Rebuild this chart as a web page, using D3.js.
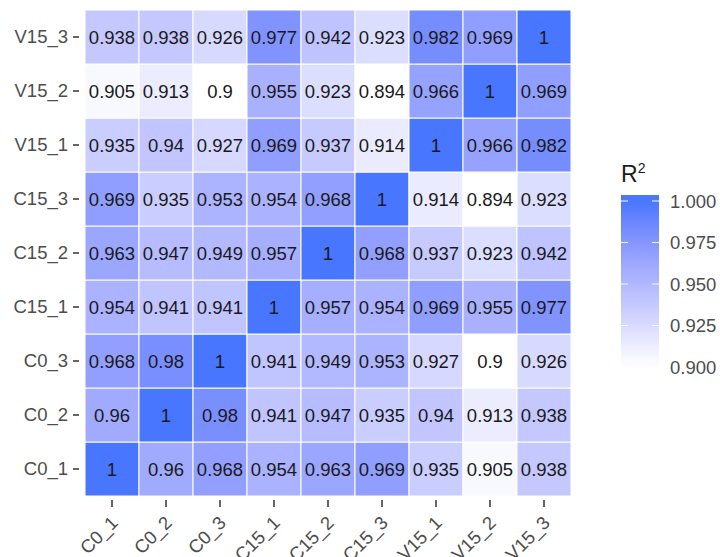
<!DOCTYPE html>
<html>
<head>
<meta charset="utf-8">
<script src="https://cdn.jsdelivr.net/npm/d3@7"></script>
<style>
  body { margin: 0; background: #fff; }
  text { font-family: "Liberation Sans", Arial, sans-serif; }
</style>
</head>
<body>
<svg id="chart" width="720" height="557"></svg>
<script>
// sample names, in axis order (bottom to top on y)
var samples = ["C0_1", "C0_2", "C0_3", "C15_1", "C15_2", "C15_3", "V15_1", "V15_2", "V15_3"];

// R^2 per row sample, columns follow `samples`
var C0_1  = [1, 0.96, 0.968, 0.954, 0.963, 0.969, 0.935, 0.905, 0.938];
var C0_2  = [0.96, 1, 0.98, 0.941, 0.947, 0.935, 0.94, 0.913, 0.938];
var C0_3  = [0.968, 0.98, 1, 0.941, 0.949, 0.953, 0.927, 0.9, 0.926];
var C15_1 = [0.954, 0.941, 0.941, 1, 0.957, 0.954, 0.969, 0.955, 0.977];
var C15_2 = [0.963, 0.947, 0.949, 0.957, 1, 0.968, 0.937, 0.923, 0.942];
var C15_3 = [0.969, 0.935, 0.953, 0.954, 0.968, 1, 0.914, 0.894, 0.923];
var V15_1 = [0.935, 0.94, 0.927, 0.969, 0.937, 0.914, 1, 0.966, 0.982];
var V15_2 = [0.905, 0.913, 0.9, 0.955, 0.923, 0.894, 0.966, 1, 0.969];
var V15_3 = [0.938, 0.938, 0.926, 0.977, 0.942, 0.923, 0.982, 0.969, 1];

var legendTicks = [0.900, 0.925, 0.950, 0.975, 1.000];

var rows = { C0_1: C0_1, C0_2: C0_2, C0_3: C0_3, C15_1: C15_1, C15_2: C15_2,
             C15_3: C15_3, V15_1: V15_1, V15_2: V15_2, V15_3: V15_3 };

var cells = [];
samples.forEach(function (r) {
    rows[r].forEach(function (v, i) {
        cells.push({ row: r, col: samples[i], value: v });
    });
});

var svg = d3.select("#chart");
var fontSize = 18.5;

// note: `top` is taken by window.top, so use other names
var plotLeft = 85, plotTop = 10, plotSize = 486;

var x = d3.scaleBand().domain(samples).range([plotLeft, plotLeft + plotSize]);
var y = d3.scaleBand().domain(samples).range([plotTop + plotSize, plotTop]);

var color = d3.scaleLinear()
    .domain([0.9, 1])
    .range(["#ffffff", "#4876ff"])
    .interpolate(d3.interpolateLab)
    .clamp(true);

var cell = svg.append("g").selectAll("g")
    .data(cells)
    .enter().append("g");

cell.append("rect")
    .attr("x", function (d) { return x(d.col); })
    .attr("y", function (d) { return y(d.row); })
    .attr("width", x.bandwidth())
    .attr("height", y.bandwidth())
    .attr("fill", function (d) { return color(d.value); })
    .attr("stroke", "#fff")
    .attr("stroke-width", 1);

cell.append("text")
    .attr("x", function (d) { return x(d.col) + x.bandwidth() / 2; })
    .attr("y", function (d) { return y(d.row) + y.bandwidth() / 2; })
    .attr("dy", "0.36em")
    .attr("text-anchor", "middle")
    .attr("font-size", fontSize)
    .attr("fill", "#1a1a1a")
    .text(function (d) { return String(+d.value.toFixed(3)); });

// y axis
var yAxis = svg.append("g")
    .attr("transform", "translate(" + (plotLeft - 6) + ",0)")
    .call(d3.axisLeft(y).tickSize(6).tickPadding(5));
yAxis.select(".domain").remove();
yAxis.selectAll("line").attr("stroke", "#333").attr("stroke-width", 1.5);
yAxis.selectAll("text").attr("font-size", fontSize).attr("fill", "#4d4d4d");

// x axis
var xAxis = svg.append("g")
    .attr("transform", "translate(0," + (plotTop + plotSize + 4) + ")")
    .call(d3.axisBottom(x).tickSize(7).tickPadding(3));
xAxis.select(".domain").remove();
xAxis.selectAll("line").attr("stroke", "#333").attr("stroke-width", 1.5);
xAxis.selectAll("text")
    .attr("font-size", fontSize)
    .attr("fill", "#4d4d4d")
    .attr("text-anchor", "end")
    .attr("dy", null)
    .attr("y", 0)
    .attr("transform", "translate(7,24) rotate(-45)");

// colour bar legend
var barTop = 195, barBottom = 370, barLeft = 621, barWidth = 38;
var ly = d3.scaleLinear().domain([0.9, 1]).range([367, 201]);

var defs = svg.append("defs");
var grad = defs.append("linearGradient")
    .attr("id", "bar-grad")
    .attr("x1", 0).attr("x2", 0).attr("y1", 1).attr("y2", 0);
d3.range(0, 1.0001, 0.05).forEach(function (t) {
    var v = ly.invert(barBottom + t * (barTop - barBottom));
    grad.append("stop").attr("offset", t).attr("stop-color", color(v));
});

svg.append("rect")
    .attr("x", barLeft).attr("y", barTop)
    .attr("width", barWidth).attr("height", barBottom - barTop)
    .attr("fill", "url(#bar-grad)");

var lt = svg.append("g").selectAll("g")
    .data(legendTicks)
    .enter().append("g");

lt.append("line")
    .attr("x1", barLeft).attr("x2", barLeft + 7)
    .attr("y1", function (d) { return ly(d); }).attr("y2", function (d) { return ly(d); })
    .attr("stroke", "#fff").attr("stroke-width", 1);
lt.append("line")
    .attr("x1", barLeft + barWidth - 7).attr("x2", barLeft + barWidth)
    .attr("y1", function (d) { return ly(d); }).attr("y2", function (d) { return ly(d); })
    .attr("stroke", "#fff").attr("stroke-width", 1);
lt.append("text")
    .attr("x", barLeft + barWidth + 11)
    .attr("y", function (d) { return ly(d); })
    .attr("dy", "0.36em")
    .attr("font-size", fontSize)
    .attr("fill", "#4d4d4d")
    .text(function (d) { return d3.format(".3f")(d); });

var title = svg.append("text")
    .attr("x", 621).attr("y", 182)
    .attr("font-size", 23)
    .attr("fill", "#1a1a1a");
title.append("tspan").text("R");
title.append("tspan").attr("font-size", 14).attr("dy", -9).text("2");
</script>
</body>
</html>
